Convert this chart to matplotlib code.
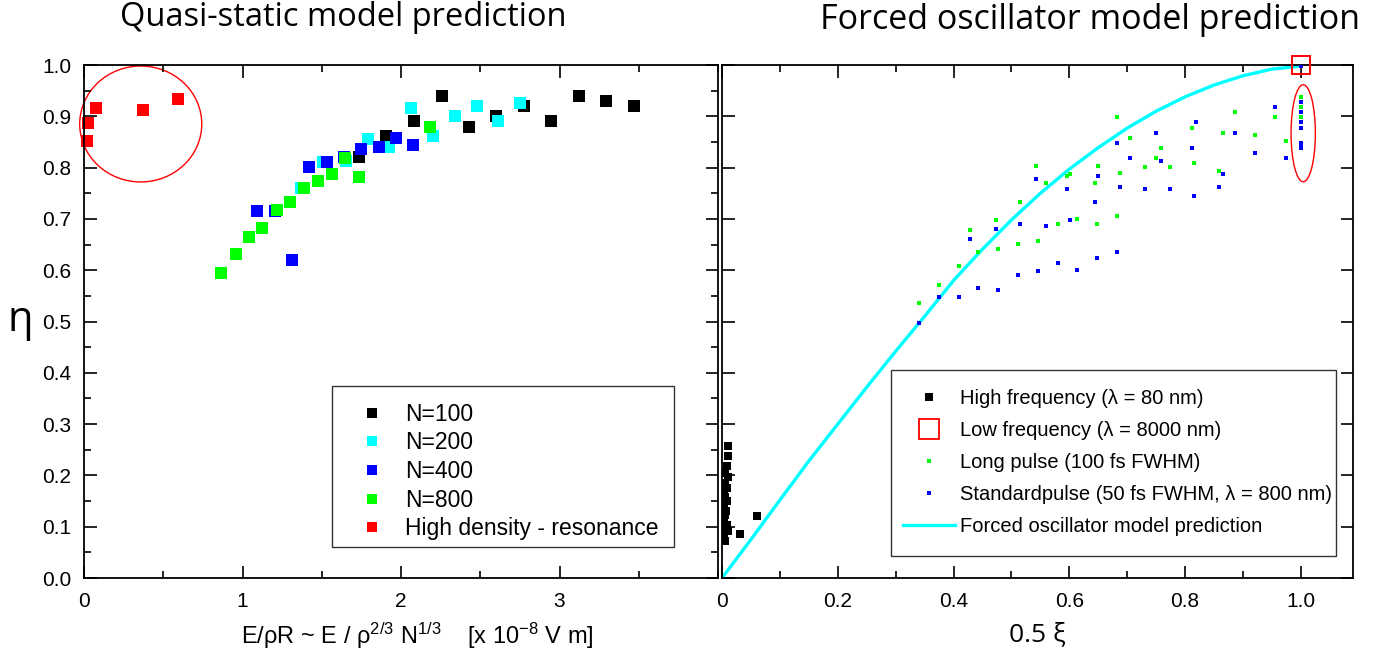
import matplotlib
matplotlib.use("Agg")
import matplotlib.pyplot as plt
from matplotlib.patches import Ellipse, Rectangle
from matplotlib.lines import Line2D
from matplotlib.ticker import MultipleLocator

# ---------------- data: left panel (quasi-static) ----------------
n100_x = [1.736, 1.907, 2.081, 2.256, 2.429, 2.601, 2.776, 2.948, 3.123, 3.294, 3.468]
n100_y = [0.820, 0.861, 0.891, 0.940, 0.880, 0.901, 0.921, 0.891, 0.940, 0.930, 0.921]

n200_x = [1.372, 1.511, 1.650, 1.789, 1.926, 2.064, 2.203, 2.340, 2.479, 2.614, 2.753]
n200_y = [0.760, 0.810, 0.812, 0.856, 0.841, 0.916, 0.861, 0.901, 0.921, 0.891, 0.926]

n400_x = [1.092, 1.202, 1.311, 1.420, 1.530, 1.640, 1.749, 1.859, 1.968, 2.077]
n400_y = [0.715, 0.715, 0.620, 0.801, 0.810, 0.821, 0.836, 0.841, 0.858, 0.845]

n800_x = [0.867, 0.956, 1.042, 1.126, 1.215, 1.301, 1.389, 1.475, 1.562, 1.648, 1.736, 2.184]
n800_y = [0.595, 0.631, 0.665, 0.683, 0.717, 0.732, 0.760, 0.774, 0.788, 0.818, 0.782, 0.880]

res_x = [0.021, 0.028, 0.078, 0.372, 0.593]
res_y = [0.852, 0.887, 0.917, 0.912, 0.933]

left_labels = ["N=100", "N=200", "N=400", "N=800", "High density - resonance"]

# ---------------- data: right panel (forced oscillator) ----------------
hf_x = [0.010, 0.010, 0.008, 0.006, 0.010, 0.005, 0.008, 0.004, 0.006, 0.009, 0.004,
        0.007, 0.005, 0.003, 0.008, 0.006, 0.004, 0.011, 0.005, 0.031, 0.060]
hf_y = [0.258, 0.238, 0.218, 0.205, 0.196, 0.186, 0.176, 0.168, 0.158, 0.150, 0.140,
        0.130, 0.122, 0.112, 0.103, 0.095, 0.088, 0.092, 0.072, 0.085, 0.121]

lf_x = [1.0]
lf_y = [1.0]

long_x = [0.341, 0.375, 0.409, 0.429, 0.443, 0.473, 0.477, 0.515, 0.512, 0.542, 0.546,
          0.559, 0.580, 0.596, 0.601, 0.614, 0.645, 0.649, 0.648, 0.682, 0.688, 0.682,
          0.704, 0.730, 0.750, 0.758, 0.774, 0.812, 0.816, 0.859, 0.866, 0.886, 0.920,
          0.955, 0.974, 1.0, 1.0, 1.0]
long_y = [0.536, 0.571, 0.608, 0.678, 0.636, 0.698, 0.642, 0.733, 0.652, 0.803, 0.656,
          0.770, 0.690, 0.783, 0.788, 0.700, 0.770, 0.803, 0.690, 0.898, 0.790, 0.705,
          0.858, 0.801, 0.818, 0.838, 0.801, 0.878, 0.808, 0.793, 0.868, 0.908, 0.863,
          0.898, 0.852, 0.938, 0.918, 0.898]

std_x = [0.341, 0.375, 0.409, 0.429, 0.443, 0.473, 0.477, 0.515, 0.512, 0.542, 0.546,
         0.559, 0.580, 0.596, 0.601, 0.614, 0.645, 0.649, 0.648, 0.682, 0.688, 0.682,
         0.704, 0.730, 0.750, 0.758, 0.774, 0.812, 0.819, 0.816, 0.859, 0.866, 0.886,
         0.920, 0.955, 0.974, 1.0, 1.0, 1.0, 1.0, 1.0, 1.0, 1.0, 1.0]
std_y = [0.498, 0.548, 0.547, 0.660, 0.566, 0.680, 0.561, 0.690, 0.591, 0.778, 0.598,
         0.687, 0.615, 0.758, 0.698, 0.600, 0.733, 0.783, 0.624, 0.848, 0.763, 0.636,
         0.818, 0.758, 0.868, 0.813, 0.758, 0.838, 0.888, 0.745, 0.763, 0.787, 0.868,
         0.828, 0.918, 0.818, 0.928, 0.908, 0.888, 0.878, 0.848, 0.843, 0.838, 0.999]

model_x = [0.0, 0.05, 0.10, 0.15, 0.20, 0.25, 0.30, 0.35, 0.40, 0.45, 0.50, 0.55, 0.60,
           0.65, 0.70, 0.75, 0.80, 0.85, 0.90, 0.95, 1.0]
model_y = [0.0, 0.075, 0.152, 0.228, 0.300, 0.372, 0.442, 0.510, 0.580, 0.641, 0.698,
           0.750, 0.797, 0.839, 0.877, 0.910, 0.938, 0.961, 0.979, 0.992, 0.998]

right_labels = ["High frequency (\u03bb = 80 nm)",
                "Low frequency (\u03bb = 8000 nm)",
                "Long pulse (100 fs FWHM)",
                "Standardpulse (50 fs FWHM, \u03bb = 800 nm)",
                "Forced oscillator model prediction"]

# ---------------- styling ----------------
plt.rcParams['font.family'] = ['Liberation Sans', 'DejaVu Sans']
plt.rcParams['mathtext.fontset'] = 'custom'
plt.rcParams['mathtext.rm'] = 'Liberation Sans'
plt.rcParams['mathtext.it'] = 'Liberation Sans:italic'

fig = plt.figure(figsize=(13.75, 6.64), dpi=100)
W, H = 1375.0, 664.0
axL = fig.add_axes([84 / W, 86 / H, 634 / W, 513 / H])
axR = fig.add_axes([722 / W, 86 / H, 631 / W, 513 / H])

for ax in (axL, axR):
    for s in ax.spines.values():
        s.set_linewidth(1.3)
    ax.set_ylim(0, 1.0)

# ----- left panel -----
ms = 8.0
axL.plot(n100_x, n100_y, 's', color='black', ms=ms, mew=0, label=left_labels[0])
axL.plot(n200_x, n200_y, 's', color='#00FFFF', ms=ms, mew=0, label=left_labels[1])
axL.plot(n400_x, n400_y, 's', color='#0000FF', ms=ms, mew=0, label=left_labels[2])
axL.plot(n800_x, n800_y, 's', color='#00FF00', ms=ms, mew=0, label=left_labels[3])
axL.plot(res_x, res_y, 's', color='#FF0000', ms=ms, mew=0, label=left_labels[4],
         clip_on=False)
axL.add_patch(Ellipse((0.358, 0.885), 0.77, 0.226, fill=False, edgecolor='#FF0000',
                      lw=1.0, clip_on=False))

axL.set_xlim(0, 4.0)
axL.set_xticks([0, 1, 2, 3])
axL.set_xticklabels(['0', '1', '2', '3'])
axL.xaxis.set_minor_locator(MultipleLocator(0.5))
axL.set_yticks([i / 10 for i in range(11)])
axL.set_yticklabels(['%.1f' % (i / 10) for i in range(11)])
axL.yaxis.set_minor_locator(MultipleLocator(0.05))
axL.tick_params(which='both', direction='in', top=True, right=True, width=1.2,
                labelsize=15)
axL.tick_params(which='major', length=9)
axL.tick_params(which='minor', length=5)
axL.tick_params(axis='x', pad=10)
axL.tick_params(axis='y', pad=9)

axL.set_xlabel('E/\u03c1R ~ E / \u03c1$^{2/3}$ N$^{1/3}$    [x 10$^{-8}$ V m]',
               fontsize=17)
axL.xaxis.set_label_coords(0.525, -0.083)

# left legend with a hand-placed frame
legL = axL.legend(loc='upper left', bbox_to_anchor=(0.436, 0.342), fontsize=16.5,
                  frameon=False, handlelength=1.0, handletextpad=0.94,
                  labelspacing=0.25, borderpad=0, borderaxespad=0, markerscale=0.9)
axL.add_patch(Rectangle((0.391, 0.0604), 0.539, 0.314, transform=axL.transAxes,
                        fill=False, edgecolor='#333333', lw=1.0, zorder=5))

# ----- right panel -----
axR.plot(model_x, model_y, '-', color='#00FFFF', lw=2.4, zorder=2, solid_capstyle='butt')
axR.plot(hf_x, hf_y, 's', color='black', ms=6, mew=0, zorder=3)
axR.plot(long_x, long_y, 's', color='#00FF00', ms=3.4, mew=0, zorder=3)
axR.plot(std_x, std_y, 's', color='#0000FF', ms=3.4, mew=0, zorder=3)
axR.plot(lf_x, lf_y, 's', mfc='none', mec='#FF0000', ms=13, mew=1.4, zorder=4,
         clip_on=False)
axR.add_patch(Ellipse((1.004, 0.867), 0.042, 0.189, fill=False, edgecolor='#FF0000',
                      lw=1.0, zorder=4))

axR.set_xlim(0, 1.09)
axR.set_xticks([0, 0.2, 0.4, 0.6, 0.8, 1.0])
axR.set_xticklabels(['0', '0.2', '0.4', '0.6', '0.8', '1.0'])
axR.xaxis.set_minor_locator(MultipleLocator(0.1))
axR.set_yticks([i / 10 for i in range(11)])
axR.tick_params(axis='y', which='both', labelleft=False)
axR.tick_params(which='both', direction='in', top=True, right=True, width=1.2,
                labelsize=15)
axR.tick_params(which='major', length=9)
axR.tick_params(which='minor', length=5)
axR.tick_params(axis='x', pad=10)

axR.set_xlabel('0.5 \u03be', fontsize=19, family=['Open Sans', 'DejaVu Sans'],
               labelpad=8)

handles = [
    Line2D([], [], ls='none', marker='s', color='black', ms=6, mew=0),
    Line2D([], [], ls='none', marker='s', mfc='none', mec='#FF0000', ms=15, mew=1.3),
    Line2D([], [], ls='none', marker='s', color='#00FF00', ms=3.4, mew=0),
    Line2D([], [], ls='none', marker='s', color='#0000FF', ms=3.4, mew=0),
    Line2D([], [], ls='-', color='#00FFFF', lw=2.4),
]
legR = axR.legend(handles, right_labels, loc='upper left',
                  bbox_to_anchor=(0.2868, 0.3692), fontsize=14.5, frameon=False,
                  handlelength=2.59, handletextpad=0.25, labelspacing=0.65,
                  borderpad=0, borderaxespad=0)
axR.add_patch(Rectangle((0.2678, 0.0429), 0.7052, 0.3626, transform=axR.transAxes,
                        fill=False, edgecolor='#333333', lw=1.0, zorder=5))

# ----- titles and y label -----
fig.text(343 / W, 1 - 17 / H, 'Quasi-static model prediction', ha='center', va='center',
         fontsize=23.5, family=['Open Sans', 'DejaVu Sans'])
fig.text(1090 / W, 1 - 20 / H, 'Forced oscillator model prediction', ha='center',
         va='center', fontsize=24.5, family=['Open Sans', 'DejaVu Sans'])
fig.text(20 / W, 1 - 320 / H, '\u03b7', ha='center', va='center', fontsize=30,
         family=['Open Sans', 'DejaVu Sans'])

fig.savefig('out.png', dpi=100)
